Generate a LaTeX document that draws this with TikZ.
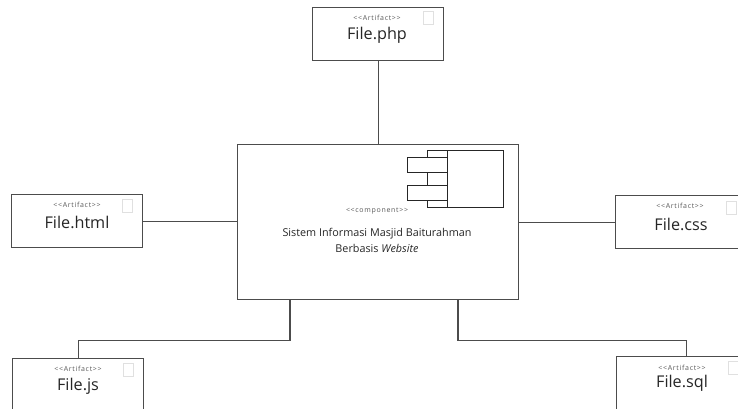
\documentclass[tikz,border=0pt]{standalone}
\usepackage{fontspec}
\setmainfont{Open Sans}[Ligatures=NoCommon]
\newcommand{\stereotext}[1]{{<}{<}#1{>}{>}}
\tikzset{
  x=1pt,y=-1pt,
  edge/.style={draw=black!70,line width=1.1pt},
  artbox/.style={draw=black!70,line width=1.2pt,fill=white,minimum width=131pt,minimum height=53pt,anchor=north west,inner sep=0pt},
  maintext/.style={font=\fontsize{16.2}{17}\selectfont,text=black!85,inner sep=0pt},
  stereo/.style={font=\fontsize{7}{8}\selectfont\addfontfeature{LetterSpace=10},text=black!65,inner sep=0pt},
  tag/.style={draw=black!12,line width=0.8pt,fill=white,minimum width=10pt,minimum height=13pt,inner sep=0pt},
  comp/.style={draw=black!85,line width=1pt,fill=white}
}
\begin{document}
\begin{tikzpicture}
\useasboundingbox (0,0) rectangle (738,409);
\clip (0,0) rectangle (738,409);
% boxes
\node[artbox] (php) at (312,7) {};
\node[artbox] (html) at (11,194) {};
\node[artbox,minimum width=140pt] (css) at (615,195) {};
\node[artbox,minimum height=70pt] (js) at (12,358) {};
\node[artbox,minimum width=140pt,minimum height=70pt] (sql) at (616,356) {};
\node[draw=black!70,line width=1.2pt,fill=white,minimum width=281pt,minimum height=155pt,anchor=north west,inner sep=0pt] (main) at (237,144) {};
% connectors
\draw[edge] (php.south) -- (php.south |- main.north);
\draw[edge] (html.east) -- (html.east -| main.west);
\draw[edge] (css.west) -- (css.west -| main.east);
\coordinate (jsb) at (290,299);
\coordinate (jsk) at (290,340.4);
\coordinate (sqb) at (458,299);
\coordinate (sqk) at (458,340.4);
\draw[edge] (jsb) -- (jsk) -- (jsk -| js.north) -- (js.north);
\draw[edge] (sqb) -- (sqk) -- (sqk -| sql.north) -- (sql.north);
% component icon
\node[comp,minimum width=20pt,minimum height=57pt,anchor=north west,inner sep=0pt] (cbody) at (427,150) {};
\node[comp,minimum width=40pt,minimum height=15pt,anchor=north west,inner sep=0pt] (cp1) at (407,157) {};
\node[comp,minimum width=40pt,minimum height=15pt,anchor=north west,inner sep=0pt] (cp2) at (407,185) {};
\node[comp,minimum width=56pt,minimum height=57pt,anchor=north west,inner sep=0pt] (cmain) at (447,150) {};
% tags
\node[tag] (t1) at (428,18) {};
\node[tag] (t2) at (127,206) {};
\node[tag] (t3) at (731,208) {};
\node[tag] (t4) at (128,370) {};
\node[tag] (t5) at (733,368) {};
% text
\node[stereo] (s1) at (377,18) {\stereotext{Artifact}};
\node[maintext] (l1) at (377,35) {File.php};
\node[stereo] (s2) at (77,205) {\stereotext{Artifact}};
\node[maintext] (l2) at (77,222) {File.html};
\node[stereo] (s3) at (680,206) {\stereotext{Artifact}};
\node[maintext] (l3) at (681,224) {File.css};
\node[stereo] (s4) at (78,369) {\stereotext{Artifact}};
\node[maintext] (l4) at (78,386) {File.js};
\node[stereo] (s5) at (682,368) {\stereotext{Artifact}};
\node[maintext] (l5) at (682,383) {File.sql};
\node[stereo] (s6) at (377,211) {\stereotext{component}};
\node[font=\fontsize{10.8}{16}\selectfont,text=black!85,align=center,inner sep=0pt] (l6) at (377,240) {Sistem Informasi Masjid Baiturahman\\Berbasis \textit{Website}};
\end{tikzpicture}
\end{document}
